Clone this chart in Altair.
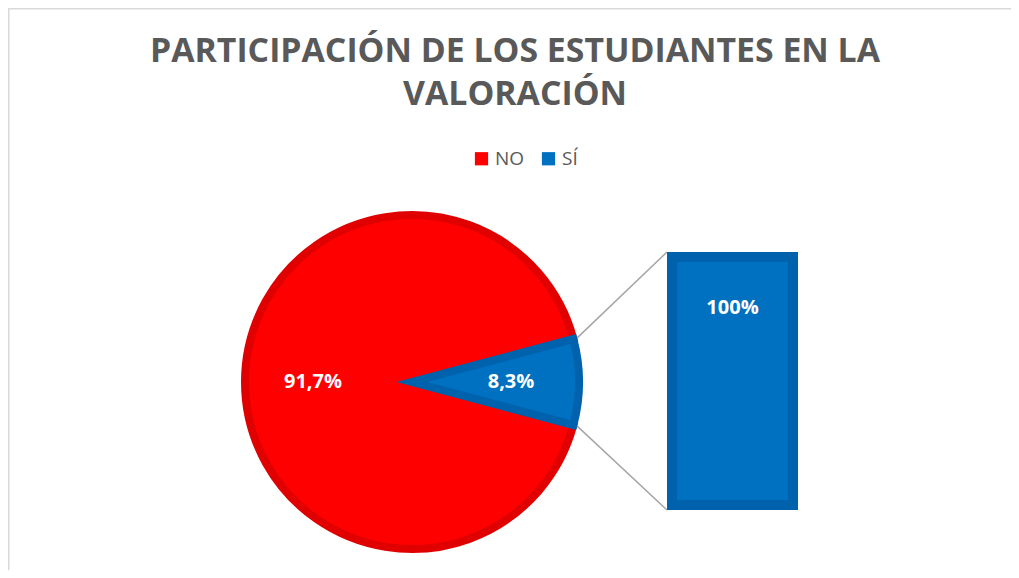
import math
import altair as alt
import pandas as pd

# ---- data ----
CATEGORIES = ["NO", "SÍ"]
SHARES = [91.7, 8.3]
SLICE_LABELS = ["91,7%", "8,3%"]
BAR_VALUES = [100]
BAR_LABELS = ["100%"]
TITLE_LINES = ["PARTICIPACIÓN DE LOS ESTUDIANTES EN LA", "VALORACIÓN"]

# ---- style / layout ----
FILL = ["#FF0000", "#0070C0"]
STROKE = ["#E00000", "#0062AD"]
FONT = "Open Sans"
GREY = "#595959"
W, H = 1003, 562
CX, CY, R, SW = 404, 374, 167, 8
BX0, BX1, BY0, BY1, BSW = 664, 785, 249, 497, 10

s = SHARES[1] / sum(SHARES)
start = math.pi / 2 + math.pi * s
theta_range = [start, start + 2 * math.pi]

pie_df = pd.DataFrame({"cat": CATEGORIES, "share": SHARES,
                       "label": SLICE_LABELS, "order": list(range(len(CATEGORIES)))})

base = alt.Chart(pie_df).encode(
    theta=alt.Theta("share:Q", stack=True, scale=alt.Scale(range=theta_range)),
    order=alt.Order("order:Q"),
)

arcs = base.mark_arc(radius=R, strokeWidth=SW, strokeJoin="miter").encode(
    x=alt.value(CX), y=alt.value(CY),
    color=alt.Color("cat:N", scale=alt.Scale(domain=CATEGORIES, range=FILL),
                    legend=alt.Legend(orient="none", legendX=464, legendY=141,
                                      direction="horizontal", title=None,
                                      symbolType="square", symbolSize=175,
                                      symbolStrokeWidth=0,
                                      labelFont=FONT, labelFontSize=19,
                                      labelColor=GREY, labelOffset=4,
                                      columnPadding=14, padding=0)),
    stroke=alt.Stroke("cat:N", scale=alt.Scale(domain=CATEGORIES, range=STROKE), legend=None),
)

slice_text = base.mark_text(radius=99, font=FONT, fontSize=20, fontWeight="bold",
                            color="white").encode(
    x=alt.value(CX), y=alt.value(CY), text="label:N")

bar_df = pd.DataFrame({"value": BAR_VALUES, "label": BAR_LABELS})
yscale = alt.Scale(domain=[0, 100], range=[BY1, BY0])
bar = alt.Chart(bar_df).mark_rect(fill=FILL[1], stroke=STROKE[1], strokeWidth=BSW).encode(
    x=alt.value(BX0), x2=alt.value(BX1),
    y=alt.Y("value:Q", scale=yscale, axis=None), y2=alt.datum(0),
)
bar_text = alt.Chart(bar_df).mark_text(font=FONT, fontSize=20, fontWeight="bold",
                                       color="white", dy=51).encode(
    x=alt.value((BX0 + BX1) / 2),
    y=alt.Y("value:Q", scale=yscale, axis=None), text="label:N")

# connector lines: from slice edges to the bar's outer corners
t1 = start + 2 * math.pi * (1 - s)
t2 = start + 2 * math.pi
ro = R + SW / 2
p1 = (CX + ro * math.sin(t1), CY - ro * math.cos(t1))
p2 = (CX + ro * math.sin(t2), CY - ro * math.cos(t2))
one = pd.DataFrame({"k": [0]})
conn1 = alt.Chart(one).mark_rule(color="#A6A6A6", strokeWidth=1.5).encode(
    x=alt.value(p1[0]), y=alt.value(p1[1]),
    x2=alt.value(BX0 - BSW / 2), y2=alt.value(BY0 - BSW / 2))
conn2 = alt.Chart(one).mark_rule(color="#A6A6A6", strokeWidth=1.5).encode(
    x=alt.value(p2[0]), y=alt.value(p2[1]),
    x2=alt.value(BX0 - BSW / 2), y2=alt.value(BY1 + BSW / 2))

# chart frame (top and left edges visible)
frame_top = alt.Chart(one).mark_rule(color="#D9D9D9", strokeWidth=1.5).encode(
    x=alt.value(0), x2=alt.value(W), y=alt.value(0.75))
frame_left = alt.Chart(one).mark_rule(color="#D9D9D9", strokeWidth=1.5).encode(
    x=alt.value(0.75), y=alt.value(0), y2=alt.value(H))

title_layers = []
for i, (line, ypos) in enumerate(zip(TITLE_LINES, [54, 97])):
    tdf = pd.DataFrame({"t": [line]})
    title_layers.append(
        alt.Chart(tdf).mark_text(font=FONT, fontSize=33.8, fontWeight="bold", color=GREY,
                                 align="center", baseline="alphabetic").encode(
            x=alt.value(507), y=alt.value(ypos), text="t:N"))

chart = alt.layer(
    frame_top, frame_left, conn1, conn2, arcs, slice_text, bar, bar_text, *title_layers
).resolve_scale(y="independent").properties(
    width=W, height=H, autosize=alt.AutoSizeParams(type="none"), padding=0
).configure_view(stroke=None)

chart.save("out.html", embed_options={"renderer": "svg", "actions": False})
